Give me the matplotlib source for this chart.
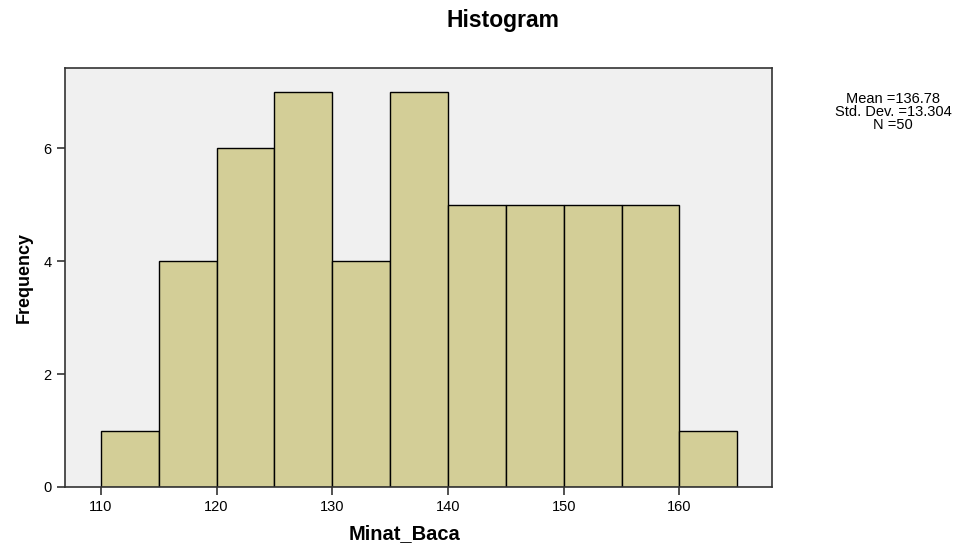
import matplotlib
matplotlib.use("Agg")
import matplotlib.pyplot as plt

bin_starts = [110, 115, 120, 125, 130, 135, 140, 145, 150, 155, 160]
frequencies = [1, 4, 6, 7, 4, 7, 5, 5, 5, 5, 1]
bin_width = 5
x_ticks = [110, 120, 130, 140, 150, 160]
y_ticks = [0, 2, 4, 6]
stats_text = "Mean =136.78\nStd. Dev. =13.304\nN =50"

plt.rcParams['font.family'] = ['Liberation Sans', 'DejaVu Sans']

fig = plt.figure(figsize=(9.74, 5.47), dpi=100)
ax = fig.add_axes([65/974, 1-487/547, (772-65)/974, (487-68)/547])
ax.set_facecolor('#F0F0F0')
ax.bar(bin_starts, frequencies, width=bin_width, align='edge',
       color='#D3CE97', edgecolor='black', linewidth=1.0, zorder=2)
ax.set_xlim(106.9, 168.0)
ax.set_ylim(0, 7.42)
ax.set_xticks(x_ticks)
ax.set_yticks(y_ticks)
ax.tick_params(direction='out', length=6, width=1.2, labelsize=10.5, color='#333333')
for s in ax.spines.values():
    s.set_linewidth(1.2)
    s.set_color('#333333')

ax.set_xlabel('Minat_Baca', fontsize=14.5, fontweight='bold')
ax.xaxis.set_label_coords((405-65)/707, -(524-487)/419)
ax.set_ylabel('Frequency', fontsize=13, fontweight='bold', labelpad=8)
fig.text(503/974, 1-20/547, 'Histogram', fontsize=16.5, fontweight='bold',
         ha='center', va='center')
fig.text(893/974, 1-112/547, stats_text, fontsize=10.5, ha='center', va='center',
         multialignment='center', linespacing=0.88)

fig.savefig('out.png', dpi=100)
